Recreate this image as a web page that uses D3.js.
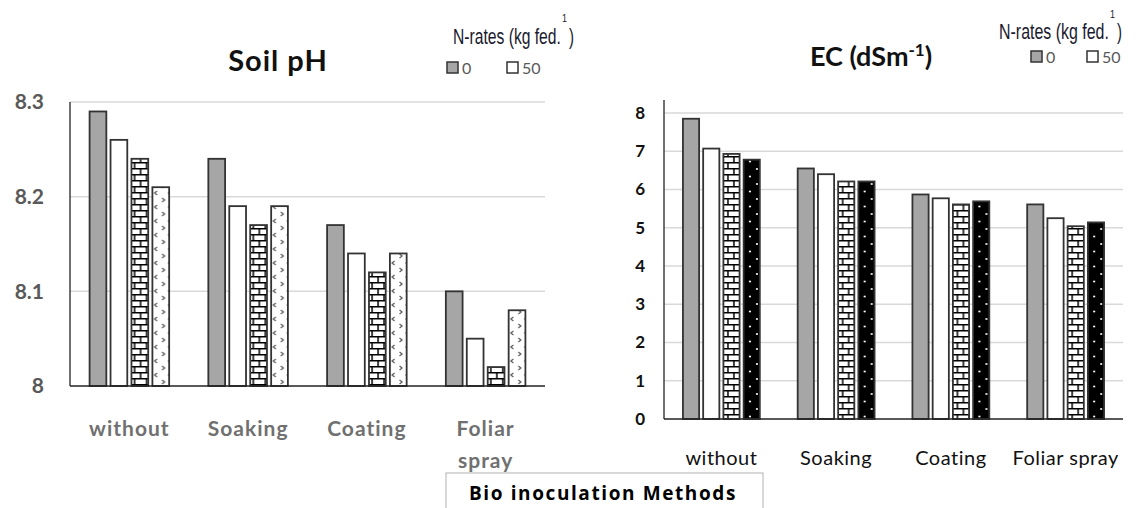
<!DOCTYPE html>
<html>
<head>
<meta charset="utf-8">
<script src="https://cdn.jsdelivr.net/npm/d3@7"></script>
<style>
  body { margin: 0; background: #fff; }
  svg { display: block; }
</style>
</head>
<body>
<svg id="chart" width="1138" height="508"></svg>
<script>
// Soil pH and EC under four bio inoculation methods, four N-rates each
const methods = ["without", "Soaking", "Coating", "Foliar spray"];
const nRates = ["0", "50", "100", "150"];
const legendRates = ["0", "50"];

// rows = methods, columns = N-rates
const phValues = [
    [8.29, 8.26, 8.24, 8.21],
    [8.24, 8.19, 8.17, 8.19],
    [8.17, 8.14, 8.12, 8.14],
    [8.10, 8.05, 8.02, 8.08]
];
const ecValues = [
    [7.85, 7.07, 6.93, 6.78],
    [6.55, 6.40, 6.21, 6.21],
    [5.87, 5.77, 5.61, 5.69],
    [5.61, 5.25, 5.04, 5.14]
];
const phTicks = [8, 8.1, 8.2, 8.3];
const ecTicks = [0, 1, 2, 3, 4, 5, 6, 7, 8];

const svg = d3.select('#chart');
const FONT = "Lato, 'Open Sans', sans-serif";
const NARROW = "'Liberation Sans', 'DejaVu Sans', sans-serif";

// Fill patterns
const defs = svg.append('defs');

const brick = defs.append('pattern')
    .attr('id', 'brick')
    .attr('patternUnits', 'userSpaceOnUse')
    .attr('width', 12).attr('height', 12);
brick.append('rect').attr('width', 12).attr('height', 12).attr('fill', '#fff');
brick.append('path')
    .attr('d', 'M0,0.75H12M0,6.75H12M3,0V6.75M9,6.75V12')
    .attr('stroke', '#000').attr('stroke-width', 1.5).attr('fill', 'none');

const dots = defs.append('pattern')
    .attr('id', 'dots')
    .attr('patternUnits', 'userSpaceOnUse')
    .attr('width', 14).attr('height', 15);
dots.append('rect').attr('width', 14).attr('height', 15).attr('fill', '#000');
dots.append('circle').attr('cx', 4).attr('cy', 4).attr('r', 1.1).attr('fill', '#fff');
dots.append('circle').attr('cx', 11).attr('cy', 11.5).attr('r', 1.1).attr('fill', '#fff');

const chevron = defs.append('pattern')
    .attr('id', 'chevron')
    .attr('patternUnits', 'userSpaceOnUse')
    .attr('width', 14).attr('height', 14);
chevron.append('rect').attr('width', 14).attr('height', 14).attr('fill', '#fff');
chevron.append('path')
    .attr('d', 'M2.5,2L5,4L2.5,6M11.5,9L9,11L11.5,13')
    .attr('stroke', '#555').attr('stroke-width', 1.2).attr('fill', 'none');

// Condensed text: squeeze horizontally to a target width
function narrowText(x, y, size, txt, width) {
    const g = svg.append('g');
    const t = g.append('text')
        .attr('font-family', NARROW)
        .attr('font-size', size)
        .attr('fill', '#1a1a2e')
        .text(txt);
    const k = width / t.node().getComputedTextLength();
    g.attr('transform', `translate(${x},${y}) scale(${k},1)`);
}

// Draw one grouped bar panel
function drawPanel(cfg) {
    const x = d3.scaleBand()
        .domain(methods)
        .range([cfg.left, cfg.right])
        .paddingInner(0.33)
        .paddingOuter(0.165);

    const xs = d3.scaleBand()
        .domain(nRates)
        .range([0, x.bandwidth()])
        .paddingInner(0.2);

    const y = d3.scaleLinear()
        .domain(cfg.domain)
        .range([cfg.bottom, cfg.top]);

    // gridlines
    svg.append('g')
        .selectAll('line')
        .data(cfg.ticks.slice(1))
        .join('line')
        .attr('x1', cfg.left).attr('x2', cfg.right)
        .attr('y1', d => y(d)).attr('y2', d => y(d))
        .attr('stroke', '#d9d9d9').attr('stroke-width', 1.5);

    // y tick labels
    svg.append('g')
        .selectAll('text')
        .data(cfg.ticks)
        .join('text')
        .attr('x', cfg.labelX)
        .attr('y', d => y(d))
        .attr('dy', '0.35em')
        .attr('text-anchor', 'end')
        .attr('font-family', FONT)
        .attr('font-weight', 'bold')
        .attr('font-size', cfg.yFont)
        .attr('fill', cfg.yColor)
        .text(d => d);

    // bars
    const groups = svg.append('g')
        .selectAll('g')
        .data(methods)
        .join('g')
        .attr('transform', d => `translate(${x(d)},0)`);

    groups.selectAll('rect')
        .data((d, i) => cfg.values[i].map((v, j) => ({ rate: nRates[j], value: v })))
        .join('rect')
        .attr('x', d => xs(d.rate))
        .attr('width', xs.bandwidth())
        .attr('y', d => y(d.value))
        .attr('height', d => cfg.bottom - y(d.value))
        .attr('fill', (d, j) => cfg.fills[j])
        .attr('stroke', '#333')
        .attr('stroke-width', 1.8);

    // axis lines
    svg.append('line')
        .attr('x1', cfg.left).attr('x2', cfg.left)
        .attr('y1', cfg.axisTop).attr('y2', cfg.bottom)
        .attr('stroke', '#404040').attr('stroke-width', 1.5);
    svg.append('line')
        .attr('x1', cfg.left).attr('x2', cfg.right)
        .attr('y1', cfg.bottom).attr('y2', cfg.bottom)
        .attr('stroke', '#222').attr('stroke-width', 1.5);

    // category labels
    const labels = svg.append('g')
        .selectAll('text')
        .data(methods)
        .join('text')
        .attr('x', d => x(d) + x.bandwidth() / 2)
        .attr('y', cfg.catY)
        .attr('text-anchor', 'middle')
        .attr('font-family', FONT)
        .attr('font-weight', cfg.catWeight)
        .attr('font-size', cfg.catFont)
        .attr('letter-spacing', cfg.catSpacing)
        .attr('fill', cfg.catColor);

    labels.each(function (d) {
        const t = d3.select(this);
        const words = cfg.wrap ? d.split(' ') : [d];
        words.forEach((w, k) => {
            t.append('tspan')
                .attr('x', x(d) + x.bandwidth() / 2)
                .attr('dy', k === 0 ? 0 : 32)
                .text(w);
        });
    });

    // title
    const title = svg.append('text')
        .attr('x', cfg.titleX)
        .attr('y', cfg.titleY)
        .attr('text-anchor', 'middle')
        .attr('font-family', FONT)
        .attr('font-weight', 'bold')
        .attr('font-size', cfg.titleFont)
        .attr('letter-spacing', cfg.titleSpacing)
        .attr('fill', '#111');
    title.append('tspan').text(cfg.title);
    if (cfg.titleSup) {
        title.append('tspan').attr('dy', -10).attr('font-size', 17).text(cfg.titleSup);
        title.append('tspan').attr('dy', 10).text(')');
    }

    // legend heading (narrow type, superscript 1 before the closing bracket)
    narrowText(cfg.legX, cfg.legY, 22, 'N-rates (kg fed.', cfg.legLen);
    narrowText(cfg.legX + cfg.legLen + 1, cfg.legY - cfg.supRise, 11, '1', 5);
    narrowText(cfg.legX + cfg.legLen + 8, cfg.legY, 22, ')', 5);

    // legend items
    const items = svg.append('g')
        .selectAll('g')
        .data(legendRates)
        .join('g')
        .attr('transform', (d, i) => `translate(${cfg.itemX + i * cfg.itemStep},${cfg.itemY})`);
    items.append('rect')
        .attr('width', 11).attr('height', 11)
        .attr('fill', (d, i) => cfg.fills[i])
        .attr('stroke', '#333').attr('stroke-width', 1.5);
    items.append('text')
        .attr('x', 15).attr('y', 6)
        .attr('dy', '0.35em')
        .attr('font-family', FONT)
        .attr('font-size', 16)
        .attr('fill', '#595959')
        .text(d => d);
}

drawPanel({
    left: 70, right: 545, top: 102, bottom: 386, axisTop: 102,
    domain: [8, 8.3], ticks: phTicks, values: phValues,
    fills: ['#a6a6a6', '#fff', 'url(#brick)', 'url(#chevron)'],
    labelX: 44, yFont: 21, yColor: '#595959',
    catY: 436, catFont: 21, catWeight: 'bold', catSpacing: 1, catColor: '#707070', wrap: true,
    title: 'Soil pH', titleX: 278, titleY: 71, titleFont: 29, titleSpacing: 1,
    legX: 453, legY: 44, legLen: 108, supRise: 22,
    itemX: 447, itemY: 62, itemStep: 60
});

drawPanel({
    left: 664, right: 1123, top: 113, bottom: 419, axisTop: 100,
    domain: [0, 8], ticks: ecTicks, values: ecValues,
    fills: ['#a6a6a6', '#fff', 'url(#brick)', 'url(#dots)'],
    labelX: 645, yFont: 17, yColor: '#111',
    catY: 465, catFont: 20, catWeight: 'normal', catSpacing: 0.5, catColor: '#111', wrap: false,
    title: 'EC (dSm', titleSup: '-1', titleX: 871, titleY: 66, titleFont: 27, titleSpacing: 0,
    legX: 999, legY: 39, legLen: 110, supRise: 21,
    itemX: 1031, itemY: 51, itemStep: 56
});

// shared x-axis caption
svg.append('rect')
    .attr('x', 446).attr('y', 473)
    .attr('width', 317).attr('height', 45)
    .attr('fill', '#fff')
    .attr('stroke', '#bfbfbf').attr('stroke-width', 1.2);
svg.append('text')
    .attr('x', 603).attr('y', 500)
    .attr('text-anchor', 'middle')
    .attr('font-family', "'Open Sans', Lato, sans-serif")
    .attr('font-weight', 'bold')
    .attr('font-size', 19)
    .attr('letter-spacing', 1.6)
    .attr('fill', '#000')
    .text('Bio inoculation Methods');
</script>
</body>
</html>
